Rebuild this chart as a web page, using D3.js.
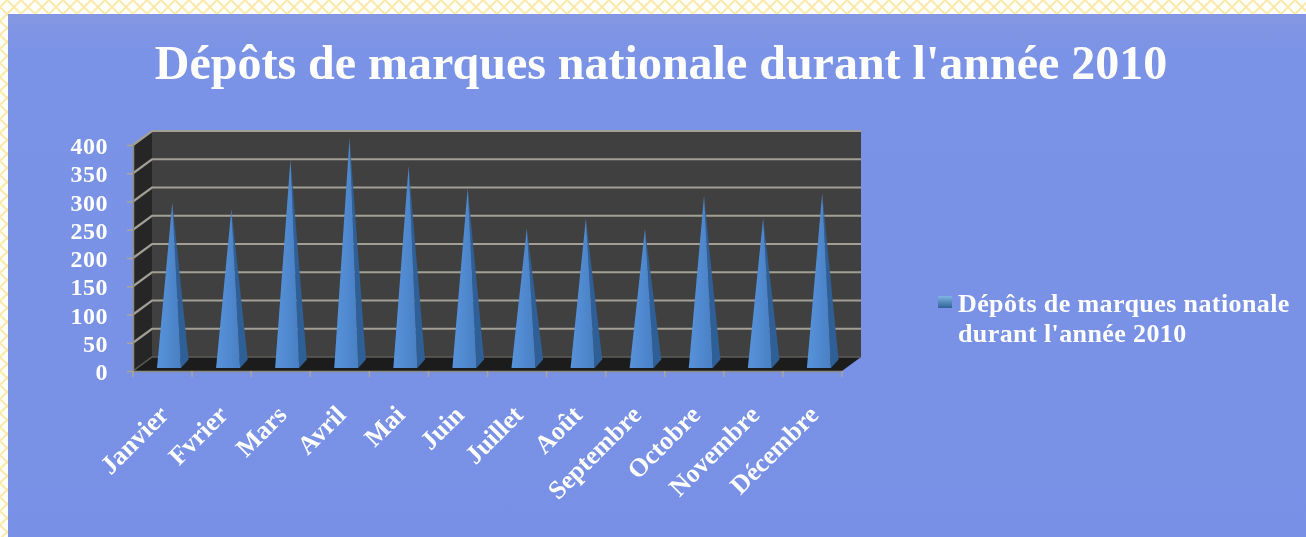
<!DOCTYPE html>
<html>
<head>
<meta charset="utf-8">
<script src="https://d3js.org/d3.v7.min.js"></script>
<style>
html, body { margin: 0; padding: 0; background: #fff; overflow: hidden; }
text { font-family: "Liberation Serif", serif; font-weight: bold; fill: #fff; }
</style>
</head>
<body>
<div id="chart"></div>
<script>
var months = ["Janvier", "Fvrier", "Mars", "Avril", "Mai", "Juin", "Juillet", "Août", "Septembre", "Octobre", "Novembre", "Décembre"];
var depots = [286, 274, 363, 400, 351, 312, 240, 258, 240, 298, 258, 302];
var yTicks = [0, 50, 100, 150, 200, 250, 300, 350, 400];
var titleText = "Dépôts de marques nationale durant l'année 2010";
var legendLines = ["Dépôts de marques nationale", "durant l'année 2010"];

var width = 1306, height = 537;
var plot = {left: 133, right: 842, top: 145, bottom: 371};
var depth = {x: 19, y: -14};

var svg = d3.select("#chart").append("svg")
	.attr("width", width)
	.attr("height", height);

var defs = svg.append("defs");

// lattice behind the panel
var lattice = defs.append("pattern")
	.attr("id", "lattice")
	.attr("width", 14)
	.attr("height", 14)
	.attr("patternUnits", "userSpaceOnUse");
lattice.append("rect").attr("width", 14).attr("height", 14).attr("fill", "#fff");
lattice.append("path")
	.attr("d", "M0,7L7,0L14,7L7,14Z")
	.attr("fill", "none")
	.attr("stroke", "#fde9a8")
	.attr("stroke-width", 2);

var panelGrad = defs.append("linearGradient")
	.attr("id", "panelGrad")
	.attr("x1", 0).attr("y1", 0).attr("x2", 0).attr("y2", 1);
panelGrad.append("stop").attr("offset", "0%").attr("stop-color", "#8497e2");
panelGrad.append("stop").attr("offset", "8%").attr("stop-color", "#7a93e6");
panelGrad.append("stop").attr("offset", "100%").attr("stop-color", "#7891e6");

var frontGrad = defs.append("linearGradient")
	.attr("id", "frontGrad")
	.attr("x1", 0).attr("y1", 0).attr("x2", 1).attr("y2", 0);
frontGrad.append("stop").attr("offset", "0%").attr("stop-color", "#5793da");
frontGrad.append("stop").attr("offset", "100%").attr("stop-color", "#4a80c4");

var markGrad = defs.append("linearGradient")
	.attr("id", "markGrad")
	.attr("x1", 0).attr("y1", 0).attr("x2", 0).attr("y2", 1);
markGrad.append("stop").attr("offset", "0%").attr("stop-color", "#7fb4e4");
markGrad.append("stop").attr("offset", "100%").attr("stop-color", "#2f6297");

var soften = defs.append("filter").attr("id", "soften");
soften.append("feGaussianBlur").attr("stdDeviation", 0.6);

svg.append("rect")
	.attr("width", width).attr("height", height)
	.attr("fill", "url(#lattice)");
svg.append("rect")
	.attr("x", 8).attr("y", 14)
	.attr("width", width - 8).attr("height", height - 14)
	.attr("fill", "url(#panelGrad)");

var x = d3.scaleBand()
	.domain(months)
	.range([plot.left, plot.right]);

var y = d3.scaleLinear()
	.domain([0, 400])
	.range([plot.bottom, plot.top]);

var g = svg.append("g").attr("filter", "url(#soften)");

function poly(points, fill) {
	return g.append("polygon")
		.attr("points", points.map(function(p) { return p.join(","); }).join(" "))
		.attr("fill", fill);
}

// 3d box: left wall, back wall, floor
var x0 = plot.left, x1 = plot.right, yTop = y(400), yBase = y(0);
poly([[x0, yTop], [x0 + depth.x, yTop + depth.y], [x0 + depth.x, yBase + depth.y], [x0, yBase]], "#272727");
poly([[x0 + depth.x, yTop + depth.y], [x1 + depth.x, yTop + depth.y], [x1 + depth.x, yBase + depth.y], [x0 + depth.x, yBase + depth.y]], "#404040");
poly([[x0, yBase], [x0 + depth.x, yBase + depth.y], [x1 + depth.x, yBase + depth.y], [x1, yBase]], "#1f1f1f");

var grid = g.append("g").attr("class", "grid");
yTicks.forEach(function(t) {
	grid.append("path")
		.attr("d", "M" + x0 + "," + y(t) + "L" + (x0 + depth.x) + "," + (y(t) + depth.y) + "L" + (x1 + depth.x) + "," + (y(t) + depth.y))
		.attr("fill", "none")
		.attr("stroke", t === 0 ? "#5f5c54" : "#a39f95")
		.attr("stroke-width", t === 0 ? 1.5 : 2.2);
});

// pyramids
var baseInset = 24, baseWidth = 24, baseDepth = 0.4;
months.forEach(function(m, i) {
	var left = x(m) + baseInset,
	    right = left + baseWidth,
	    base = yBase - 3,
	    dx = depth.x * baseDepth,
	    dy = depth.y * 0.6,
	    apexX = left + baseWidth / 2 + dx / 2 - 0.5,
	    apexY = y(depots[i]) + depth.y / 2;
	poly([[right, base], [right + dx, base + dy], [apexX, apexY]], "#2f5f96");
	poly([[left, base], [right, base], [apexX, apexY]], "url(#frontGrad)");
});

// axes
var yAxis = d3.axisLeft(y)
	.tickValues(yTicks)
	.tickSize(6)
	.tickPadding(19)
	.tickFormat(d3.format("d"));

var xAxis = d3.axisBottom(x)
	.tickSize(0)
	.tickPadding(0);

var yG = g.append("g")
	.attr("transform", "translate(" + plot.left + ",0)")
	.call(yAxis);
yG.select(".domain").attr("stroke", "#8f8b80").attr("stroke-width", 1.5);
yG.selectAll(".tick line").attr("stroke", "#a9a59b").attr("stroke-width", 1.5);
yG.selectAll(".tick text")
	.style("font-size", "24px")
	.style("letter-spacing", "0.5px")
	.attr("dy", "0.36em")
	.attr("fill", "#fff");

var xG = g.append("g")
	.attr("transform", "translate(0," + plot.bottom + ")")
	.call(xAxis);
xG.select(".domain").attr("stroke", "#8f8b80").attr("stroke-width", 1.5);
xG.selectAll(".tick line").remove();
xG.selectAll(".tick-mark")
	.data(d3.range(months.length + 1))
	.enter().append("line")
	.attr("class", "tick-mark")
	.attr("x1", function(i) { return plot.left + i * x.step(); })
	.attr("x2", function(i) { return plot.left + i * x.step(); })
	.attr("y1", 0)
	.attr("y2", 6)
	.attr("stroke", "#a9a59b")
	.attr("stroke-width", 1.5);
xG.selectAll(".tick text")
	.style("font-size", "26px")
	.attr("text-anchor", "end")
	.attr("dy", "0.35em")
	.attr("y", 0)
	.attr("transform", "translate(1,39) rotate(-45)");

// title
g.append("text")
	.attr("x", 661)
	.attr("y", 79)
	.attr("text-anchor", "middle")
	.style("font-size", "48px")
	.text(titleText);

// legend
g.append("rect")
	.attr("x", 938).attr("y", 296)
	.attr("width", 14).attr("height", 12)
	.attr("fill", "url(#markGrad)");
g.selectAll(".legend-line")
	.data(legendLines)
	.enter().append("text")
	.attr("class", "legend-line")
	.attr("x", 958)
	.attr("y", function(d, i) { return 312 + i * 30; })
	.style("font-size", "26px")
	.style("letter-spacing", "0.4px")
	.text(function(d) { return d; });
</script>
</body>
</html>
